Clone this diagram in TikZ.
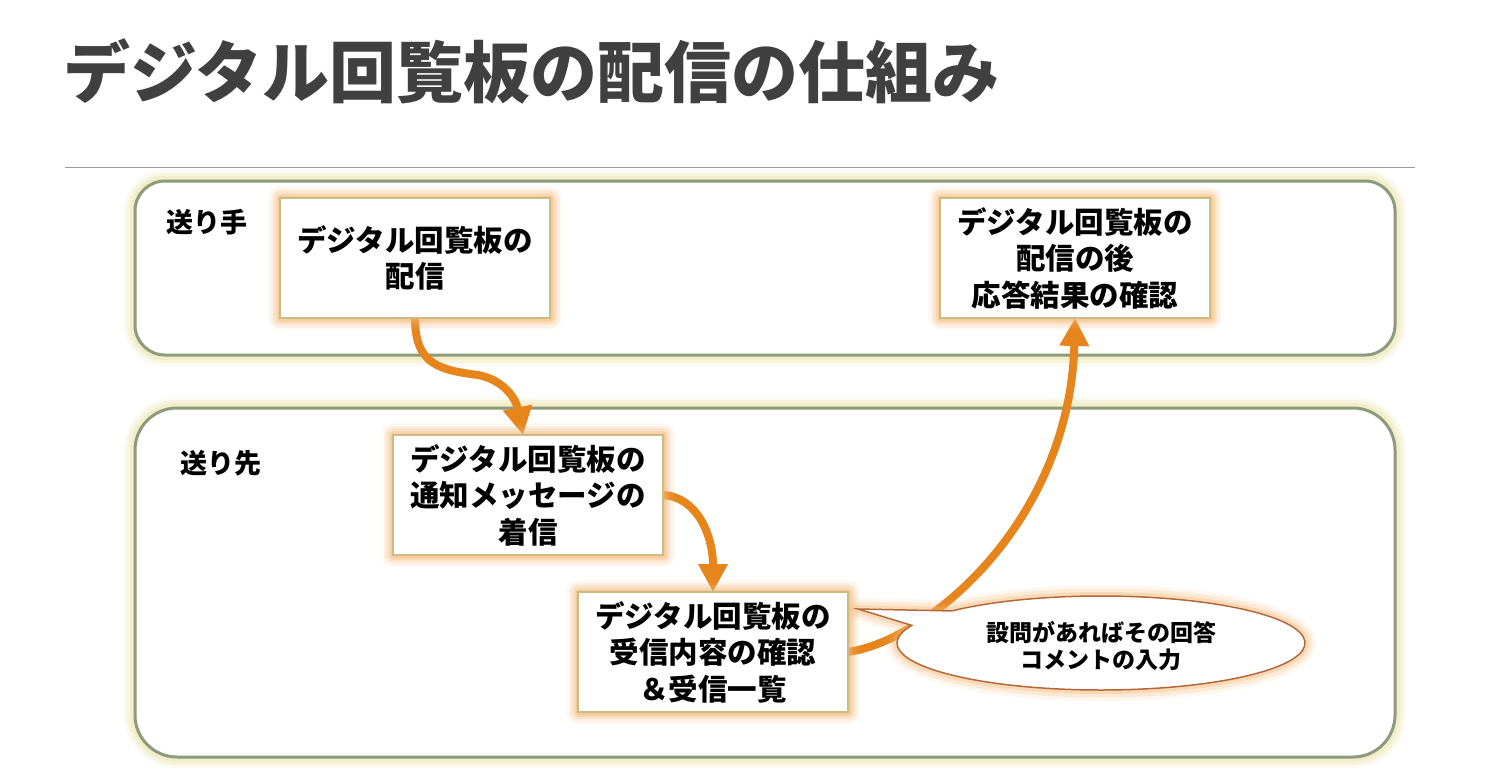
\documentclass[tikz,border=0pt]{standalone}
\usepackage{fontspec}
\newfontfamily\jp{Noto Sans CJK JP}
\usetikzlibrary{arrows.meta}
\definecolor{titlegray}{HTML}{404040}
\definecolor{rulegray}{HTML}{9A9A9A}
\definecolor{laneline}{HTML}{8E9A7C}
\definecolor{laneglow}{HTML}{ECE7B4}
\definecolor{boxline}{HTML}{C9BD85}
\definecolor{boxglow}{HTML}{F7B36A}
\definecolor{flowor}{HTML}{E5851B}
\definecolor{noteline}{HTML}{B5683C}

\begin{document}
\begin{tikzpicture}
    [x=1pt, y=1pt, every node/.style={inner sep=0pt},
     lane/.style={fill=white, draw=laneline, line width=3pt, minimum width=1260pt,
        preaction={draw=laneglow, line width=22pt, draw opacity=0.2},
        preaction={draw=laneglow, line width=16pt, draw opacity=0.3},
        preaction={draw=laneglow, line width=10pt, draw opacity=0.5}},
     lanelbl/.style={font=\jp\bfseries\fontsize{27pt}{30pt}\selectfont, text=black},
     flowbox/.style={fill=white, draw=boxline, line width=2pt, minimum width=270pt, minimum height=120pt,
        align=center, font=\jp\bfseries\fontsize{29.5pt}{36.5pt}\selectfont, text=black,
        preaction={draw=boxglow, line width=24pt, draw opacity=0.08, line join=round},
        preaction={draw=boxglow, line width=19pt, draw opacity=0.12, line join=round},
        preaction={draw=boxglow, line width=14pt, draw opacity=0.18, line join=round},
        preaction={draw=boxglow, line width=9pt, draw opacity=0.25, line join=round},
        preaction={draw=boxglow, line width=5pt, draw opacity=0.35, line join=round}},
     flow/.style={line width=8pt, color=flowor, -{Triangle[width=28pt, length=28pt]}},
     bubble/.style={fill=white, draw=noteline, line width=1.5pt,
        preaction={draw=boxglow, line width=22pt, draw opacity=0.1, line join=round},
        preaction={draw=boxglow, line width=15pt, draw opacity=0.18, line join=round},
        preaction={draw=boxglow, line width=8pt, draw opacity=0.3, line join=round}},
     notetext/.style={align=center, font=\jp\bfseries\fontsize{23pt}{27pt}\selectfont, text=black}]
        \useasboundingbox (0,0) rectangle (1494,-776);
        % title and rule
        \node (title) [anchor=west, font=\jp\bfseries\fontsize{67pt}{70pt}\selectfont, text=titlegray] at (63,-71) {デジタル回覧板の配信の仕組み};
        \coordinate (ruleL) at (65,-167);
        \coordinate (ruleR) at (1415,-167);
        \draw [rulegray, line width=1pt] (ruleL) -- (ruleR);
        % lanes
        \node (sender) [lane, rounded corners=30pt, minimum height=174pt] at (765,-268) {};
        \node (receiver) [lane, rounded corners=42pt, minimum height=349pt] at (765,-582.5) {};
        \node (senderlbl) [lanelbl] at (207,-222) {送り手};
        \node (receiverlbl) [lanelbl] at (221,-463) {送り先};
        % arrows
        \draw [flow] (415,-318) .. controls (415,-365) and (440,-370) .. (478,-375) .. controls (500,-379) and (515,-395) .. (523,-435);
        \draw [flow] (663,-495) .. controls (697,-497) and (713,-535) .. (713,-592);
        \draw [flow] (848,-652) .. controls (930,-640) and (1070,-520) .. (1075,-318);
        % boxes
        \node (send) [flowbox] at (415,-258) {デジタル回覧板の\\配信};
        \node (result) [flowbox] at (1075,-258) {デジタル回覧板の\\配信の後\\応答結果の確認};
        \node (notice) [flowbox] at (528,-495) {デジタル回覧板の\\通知メッセージの\\着信};
        \node (recv) [flowbox] at (713,-652) {デジタル回覧板の\\受信内容の確認\\＆受信一覧};
        % callout
        \coordinate (tip) at (858,-609);
        \coordinate (c) at (1101,-643);
        \path [bubble] (tip) -- ([shift={(137:204 and 47)}]c) arc[start angle=137, end angle=-202, x radius=204, y radius=47] -- cycle;
        \node (note) [notetext] at (1101,-646) {設問があればその回答\\コメントの入力};
    \end{tikzpicture}
\end{document}
